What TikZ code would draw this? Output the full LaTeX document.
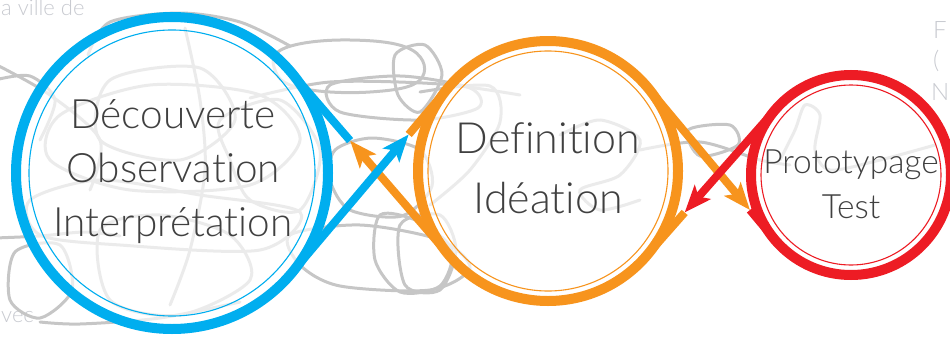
\documentclass[tikz,border=0pt]{standalone}
\usepackage{fontspec}
\setmainfont{Lato}[Ligatures=NoCommon,UprightFont=* Light]
\usetikzlibrary{arrows.meta,calc}

\definecolor{bluering}{HTML}{00AEEF}
\definecolor{orangering}{HTML}{F7941D}
\definecolor{redring}{HTML}{ED1C24}
\definecolor{scribgray}{HTML}{C6C6C6}
\definecolor{labelgray}{HTML}{404040}
\definecolor{backgray}{HTML}{C8CAD0}

\begin{document}
\begin{tikzpicture}[x=1pt,y=-1pt,
    ring/.style={circle,line width=10pt,inner sep=0pt,outer sep=0pt,fill=white,fill opacity=0.65},
    inner ring/.style={line width=1.1pt},
    labeltxt/.style={align=center,inner sep=0pt,text=labelgray},
    link/.style={line width=8pt},
    headed/.style={-{Stealth[length=27pt,width=21pt,inset=6pt]}},
    scribble/.style={scribgray,line width=3pt,line cap=round},
    backtxt/.style={text=backgray,inner sep=0pt,font=\fontsize{22}{26}\selectfont}]
  \useasboundingbox (0,0) rectangle (950,340);
  \clip (0,0) rectangle (950,340);

  % background texts near the edges
  \node[backtxt,anchor=base west] (villetxt) at (1,16) {a ville de};
  \node[backtxt,anchor=base west] (avectxt) at (1,322) {vec};
  \node[backtxt,anchor=base west,font=\fontsize{24}{26}\selectfont] (rightf) at (933,38) {F};
  \node[backtxt,anchor=base west,font=\fontsize{24}{26}\selectfont] (rightpar) at (933,68) {(};
  \node[backtxt,anchor=base west,font=\fontsize{24}{26}\selectfont] (rightn) at (931,100) {N};

  % scribbles
  \draw[scribble] plot[smooth cycle,tension=0.7] coordinates {(285,48) (350,40) (412,50) (420,80) (370,92) (300,88) (275,70)};
  \draw[scribble] plot[smooth cycle] coordinates {(330,85) (400,76) (470,88) (478,108) (420,120) (340,112)};
  \draw[scribble] plot[smooth] coordinates {(250,98) (330,82) (440,84) (520,95)};
  \draw[scribble] plot[smooth cycle] coordinates {(335,150) (372,138) (420,150) (432,186) (402,216) (350,210) (330,180)};
  \draw[scribble] plot[smooth cycle] coordinates {(290,235) (360,225) (440,240) (470,268) (430,290) (340,286) (300,265)};
  \draw[scribble] plot[smooth cycle] coordinates {(380,215) (420,222) (452,250) (440,286) (400,292) (375,260)};
  \draw[scribble] plot[smooth] coordinates {(-5,238) (40,236) (85,232) (120,236)};
  \draw[scribble] plot[smooth cycle] coordinates {(15,252) (60,245) (72,290) (40,318) (10,300)};
  \draw[scribble] plot[smooth] coordinates {(40,322) (80,324) (160,318) (240,302)};
  \draw[scribble] plot[smooth] coordinates {(-5,64) (50,95) (100,140) (90,190)};
  \draw[scribble] plot[smooth] coordinates {(-5,80) (30,76) (55,100) (40,140)};
  \draw[scribble] plot[smooth] coordinates {(88,55) (110,22) (180,13) (240,22) (290,46)};
  \draw[scribble] plot[smooth cycle] coordinates {(60,115) (150,85) (260,95) (300,140) (250,185) (130,190) (50,160)};
  \draw[scribble] plot[smooth cycle] coordinates {(110,80) (200,68) (235,120) (180,160) (100,140)};
  \draw[scribble] plot[smooth] coordinates {(185,28) (200,100) (205,170) (190,250) (170,305)};
  \draw[scribble] plot[smooth cycle] coordinates {(100,230) (160,215) (230,235) (250,280) (180,315) (110,300)};
  \draw[scribble] plot[smooth cycle] coordinates {(30,200) (100,180) (200,195) (300,212) (260,250) (120,245) (40,235)};
  \draw[scribble] plot[smooth cycle] coordinates {(220,120) (280,100) (320,150) (300,210) (250,200) (230,160)};
  \draw[scribble] plot[smooth cycle] coordinates {(395,55) (425,45) (442,75) (420,112) (398,95)};
  \draw[scribble] plot[smooth cycle] coordinates {(400,225) (440,215) (456,250) (440,290) (405,285)};
  \draw[scribble] plot[smooth] coordinates {(420,92) (490,86) (500,122) (470,170) (430,205)};
  \draw[scribble] plot[smooth] coordinates {(560,135) (600,120) (640,140) (620,175) (580,190) (600,210) (640,200)};
  \draw[scribble] plot[smooth cycle] coordinates {(688,130) (730,125) (738,145) (700,156)};
  \draw[scribble] plot[smooth] coordinates {(640,150) (700,142) (760,160) (790,165)};
  \draw[scribble] plot[smooth] coordinates {(780,160) (795,130) (805,105) (820,115) (815,150) (830,170) (880,160) (935,145)};

  % the three rings
  \node[ring,draw=bluering,minimum size=312pt] (decouverte) at (172,173) {};
  \node[ring,draw=orangering,minimum size=260pt] (definition) at (548,171) {};
  \node[ring,draw=redring,minimum size=200pt] (prototypage) at (851,175) {};
  \draw[inner ring,bluering] (decouverte.center) circle[radius=143];
  \draw[inner ring,orangering] (definition.center) circle[radius=120];
  \draw[inner ring,redring] (prototypage.center) circle[radius=90];

  \node[labeltxt,font=\fontsize{40.5}{54}\selectfont] (decouvertetxt) at (173,172)
    {Découverte\\Observation\\Interprétation};
  \node[labeltxt,font=\fontsize{43}{60}\selectfont] (definitiontxt) at (548,168)
    {Definition\\Idéation};
  \node[labeltxt,font=\fontsize{33.5}{45}\selectfont] (prototypagetxt) at (851,184)
    {Prototypage\\Test};

  % crossing links
  \coordinate (tipbo) at ($(decouverte.-40.5)!0.74!(definition.139.5)$);
  \coordinate (tipob) at ($(definition.-139.5)!0.63!(decouverte.40.5)$);
  \coordinate (tipor) at ($(definition.40.6)!0.80!(prototypage.-139.4)$);
  \coordinate (tipro) at ($(prototypage.139.4)!0.71!(definition.-40.6)$);

  \draw[link,orangering] (tipbo) -- (definition.139.5);
  \draw[link,bluering] (tipob) -- (decouverte.40.5);
  \draw[link,orangering,headed] (definition.-139.5) -- (tipob);
  \draw[link,bluering,headed] (decouverte.-40.5) -- (tipbo);

  \draw[link,redring] (tipor) -- (prototypage.-139.4);
  \draw[link,orangering] (tipro) -- (definition.-40.6);
  \draw[link,orangering,headed] (definition.40.6) -- (tipor);
  \draw[link,redring,headed] (prototypage.139.4) -- (tipro);
\end{tikzpicture}
\end{document}
